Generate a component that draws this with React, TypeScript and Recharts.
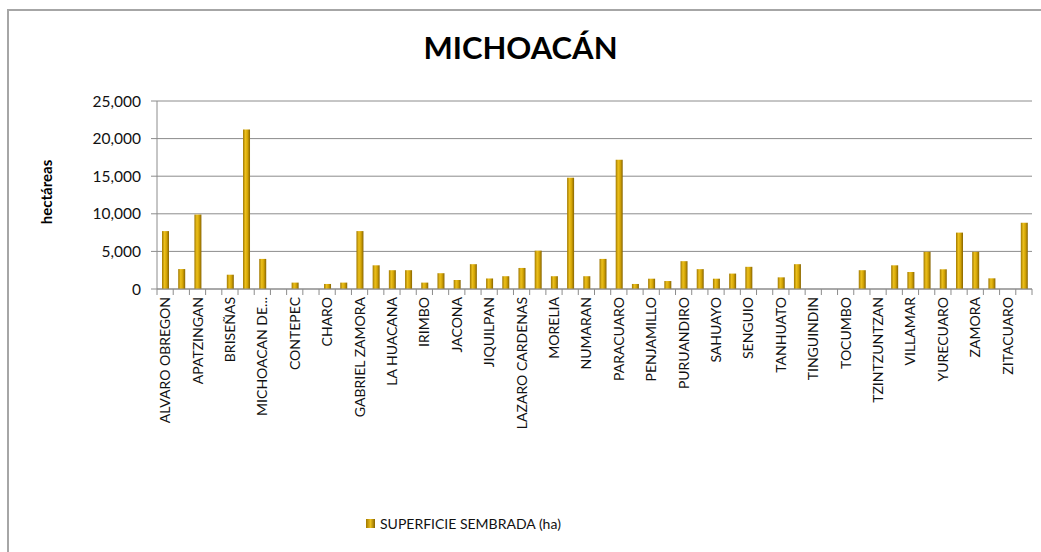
import React from "react"
import { BarChart, Bar, XAxis, YAxis, CartesianGrid } from "recharts"

const municipios = [
  "ALVARO OBREGON", "ANGAMACUTIRO", "APATZINGAN", "ARIO", "BRISEÑAS", "BUENAVISTA",
  "MICHOACAN DE...", "COENEO", "CONTEPEC", "CUITZEO", "CHARO", "ECUANDUREO",
  "GABRIEL ZAMORA", "HIDALGO", "LA HUACANA", "HUETAMO", "IRIMBO", "IXTLAN",
  "JACONA", "JIMENEZ", "JIQUILPAN", "JOSE SIXTO VERDUZCO", "LAZARO CARDENAS", "MARAVATIO",
  "MORELIA", "MUGICA", "NUMARAN", "PANINDICUARO", "PARACUARO", "PATZCUARO",
  "PENJAMILLO", "PUREPERO", "PURUANDIRO", "QUERENDARO", "SAHUAYO", "SANTA ANA MAYA",
  "SENGUIO", "TANGANCICUARO", "TANHUATO", "TARIMBARO", "TINGUINDIN", "TLAZAZALCA",
  "TOCUMBO", "TUXPAN", "TZINTZUNTZAN", "VENUSTIANO CARRANZA", "VILLAMAR", "VISTA HERMOSA",
  "YURECUARO", "ZACAPU", "ZAMORA", "ZINAPARO", "ZITACUARO", "ZINAPECUARO",
]

const superficie = [
  7700, 2650, 9900, 0, 1900, 21200,
  4000, 0, 850, 0, 670, 850,
  7700, 3150, 2500, 2500, 850, 2100,
  1200, 3300, 1400, 1700, 2800, 5100,
  1700, 14800, 1700, 4000, 17200, 670,
  1370, 1060, 3700, 2640, 1370, 2050,
  2950, 0, 1550, 3300, 0, 0,
  0, 2500, 0, 3150, 2260, 4950,
  2620, 7500, 4950, 1420, 0, 8800,
]

const yTicks = [0, 5000, 10000, 15000, 20000, 25000]

const data = municipios.map((m, i) => ({ municipio: m, superficie: superficie[i] }))

const FONT = "Lato, 'Liberation Sans', sans-serif"
const PLOT_LEFT = 157
const PLOT_RIGHT = 1032
const BAND = (PLOT_RIGHT - PLOT_LEFT) / municipios.length

const XTick = (props: any) => {
  const { x, y, payload, index } = props
  const last = index === municipios.length - 1
  return (
    <g>
      <line x1={x - BAND / 2} x2={x - BAND / 2} y1={y} y2={y + 6} stroke="#8c8c8c" />
      {last && <line x1={x + BAND / 2} x2={x + BAND / 2} y1={y} y2={y + 6} stroke="#8c8c8c" />}
      {index % 2 === 0 && (
        <text
          transform={`translate(${x + 5},${y + 8}) rotate(-90)`}
          textAnchor="end"
          fontSize={14}
          fontFamily={FONT}
          fill="#111"
        >
          {payload.value}
        </text>
      )}
    </g>
  )
}

export default function App() {
  return (
    <div style={{ position: "absolute", left: 0, top: 0, width: 1041, height: 552, background: "#fff", overflow: "hidden" }}>
      <div style={{ position: "absolute", left: 7, top: 9, width: 1100, height: 600, borderTop: "2px solid #a6a6a6", borderLeft: "2px solid #a6a6a6" }} />
      <div style={{ position: "absolute", left: 0, top: 28, width: 1041, textAlign: "center", fontFamily: FONT, fontWeight: 700, fontSize: 31, color: "#000" }}>
        MICHOACÁN
      </div>
      <div style={{ position: "absolute", left: 46, top: 192, transform: "translate(-50%, -50%) rotate(-90deg)", fontFamily: FONT, fontWeight: 700, fontSize: 15, whiteSpace: "nowrap" }}>
        hectáreas
      </div>
      <div style={{ position: "absolute", left: 0, top: 0 }}>
        <BarChart width={1041} height={552} data={data} margin={{ top: 101, right: 1041 - PLOT_RIGHT, left: PLOT_LEFT - 70, bottom: 63 }} barCategoryGap={0}>
          <defs>
            <linearGradient id="gold" x1="0" y1="0" x2="1" y2="0">
              <stop offset="0" stopColor="#a07800" />
              <stop offset="0.35" stopColor="#ecc01c" />
              <stop offset="0.65" stopColor="#d4a505" />
              <stop offset="1" stopColor="#876400" />
            </linearGradient>
          </defs>
          <CartesianGrid vertical={false} stroke="#8c8c8c" />
          <XAxis
            dataKey="municipio"
            interval={0}
            height={200}
            tickSize={0}
            tickMargin={0}
            tickLine={false}
            axisLine={{ stroke: "#8c8c8c" }}
            tick={<XTick />}
          />
          <YAxis
            width={70}
            domain={[0, 25000]}
            ticks={yTicks}
            tickSize={6}
            tickMargin={10}
            tickFormatter={(v: number) => v.toLocaleString("en-US")}
            axisLine={{ stroke: "#8c8c8c" }}
            tickLine={{ stroke: "#8c8c8c" }}
            tick={{ fontSize: 15.5, fontFamily: FONT, fill: "#111" }}
          />
          <Bar dataKey="superficie" fill="url(#gold)" barSize={7} isAnimationActive={false} />
        </BarChart>
      </div>
      <div style={{ position: "absolute", left: 366, top: 515, display: "flex", alignItems: "center", fontFamily: FONT, fontSize: 14, color: "#111" }}>
        <span style={{ display: "inline-block", width: 9, height: 9, marginRight: 5, background: "linear-gradient(90deg, #a07800, #ecc01c, #876400)" }} />
        SUPERFICIE SEMBRADA (ha)
      </div>
    </div>
  )
}
